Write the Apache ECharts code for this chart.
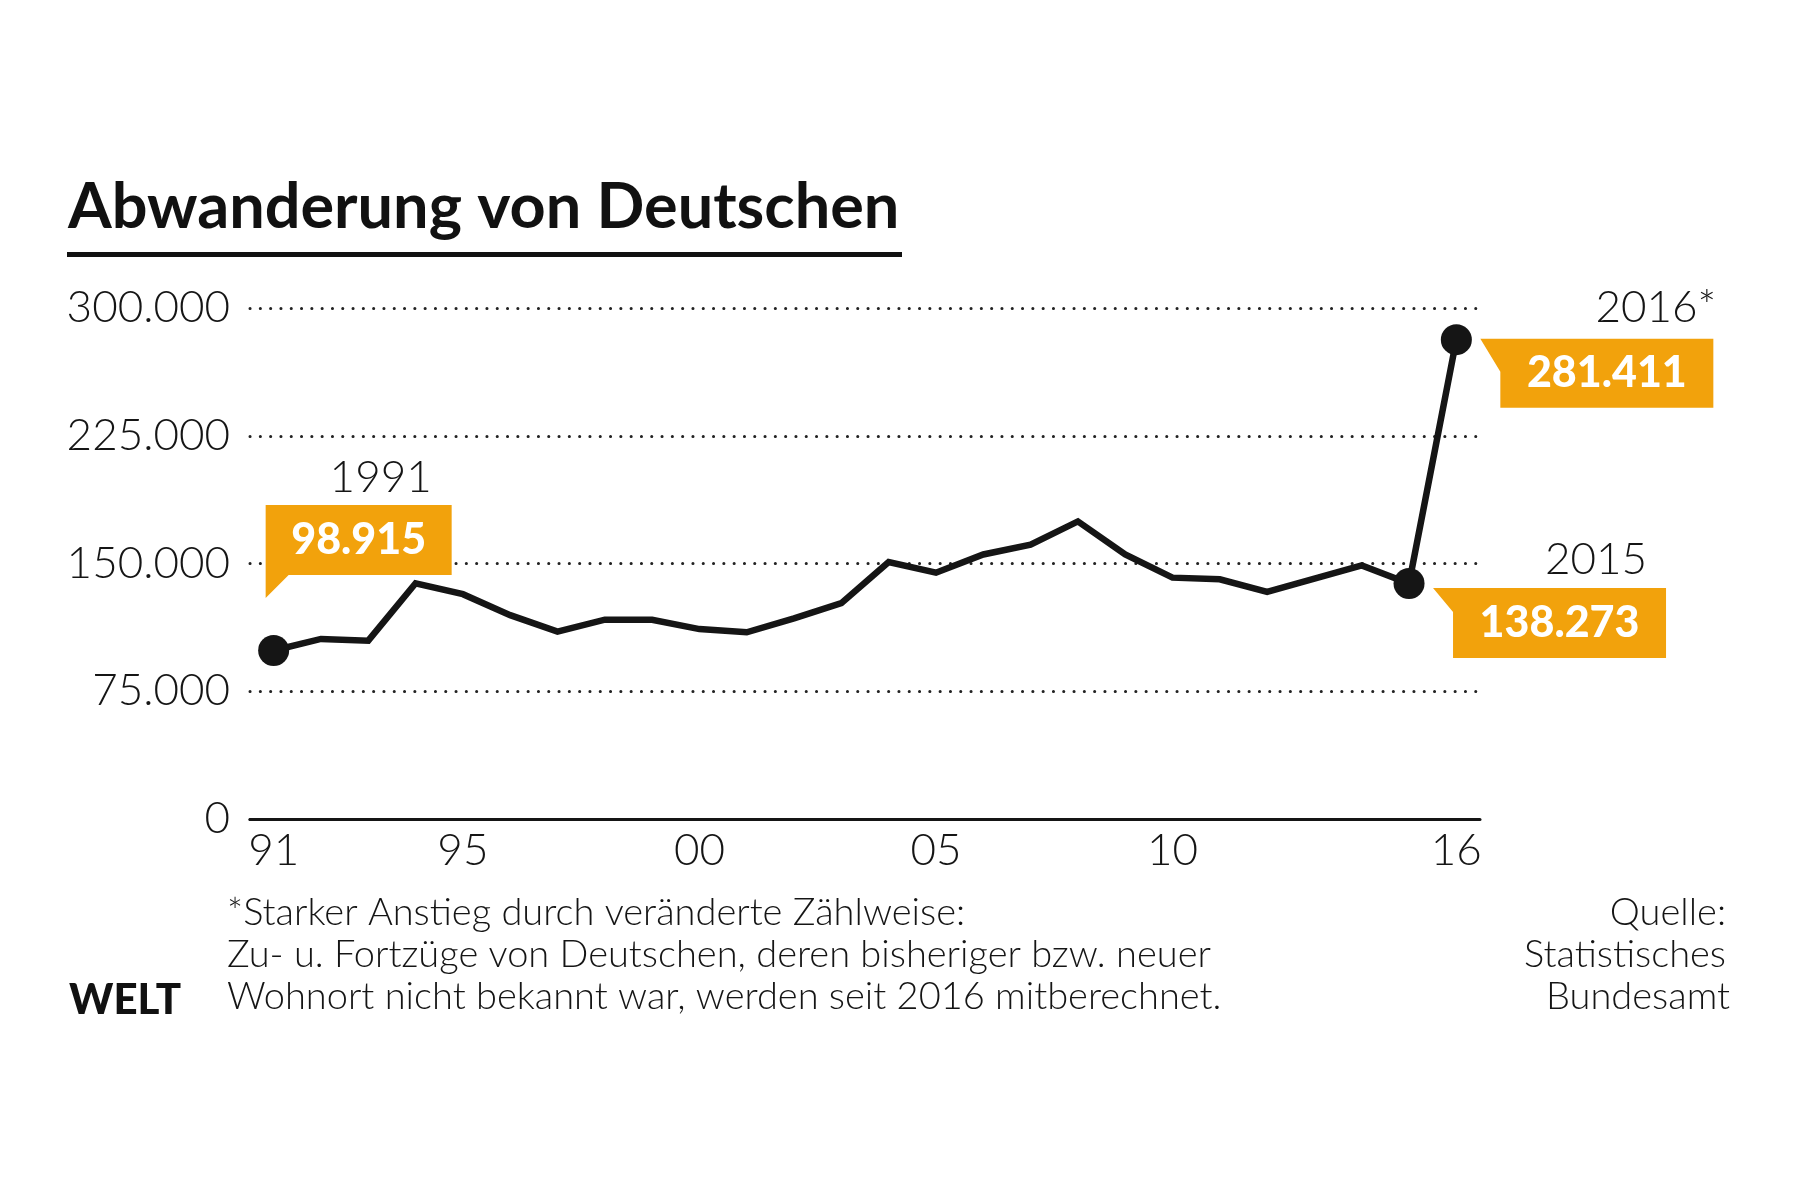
<!DOCTYPE html>
<html>
<head>
<meta charset="utf-8">
<script src="https://cdn.jsdelivr.net/npm/echarts@6/dist/echarts.min.js"></script>
<style>
html,body{margin:0;padding:0;background:#fff;}
#chart{width:1800px;height:1200px;}
</style>
</head>
<body>
<div id="chart"></div>
<script>
// ---- data ----
const years = ['1991','1992','1993','1994','1995','1996','1997','1998','1999','2000','2001','2002','2003','2004','2005','2006','2007','2008','2009','2010','2011','2012','2013','2014','2015','2016'];
const values = [98915,105700,104700,138400,132000,119700,110000,117000,117000,111500,109600,117800,126700,150800,144600,155300,161100,174700,155300,141700,140700,133300,141100,148900,138273,281411];
const xTickYears = ['1991','1995','2000','2005','2010','2016'];
const xTickLabels = ['91','95','00','05','10','16'];
const yTicks = [0,75000,150000,225000,300000];
const highlightYears = ['1991','2015','2016'];
const calloutYearLabels = ['1991','2015','2016*'];
const calloutValueLabels = ['98.915','138.273','281.411'];

const ORANGE = '#f2a20c';
const INK = '#151515';
const LIGHT = 'Lato';

function fmtDE(v){ return String(v).replace(/\B(?=(\d{3})+(?!\d))/g,'.'); }

const chart = echarts.init(document.getElementById('chart'));

// callout shapes (box + tail), in px
const calloutShapes = [
  {path:'path://M0 0 L186 0 L186 70 L23 70 L0 93 Z', size:[186,93], offset:[85,-99], labelOffset:[0,-11.5], yearOffset:[107,-173]},
  {path:'path://M0 0 L233 0 L233 70 L20 70 L20 24 Z', size:[233,70], offset:[140.5,39.5], labelOffset:[10,0], yearOffset:[187,-23.5]},
  {path:'path://M0 0 L233 0 L233 69 L20 69 L20 33 Z', size:[233,69], offset:[140.5,33.5], labelOffset:[10,0], yearOffset:[199.5,-32]}
];

const markData = [];
highlightYears.forEach((yr,i)=>{
  const idx = years.indexOf(yr);
  const s = calloutShapes[i];
  markData.push({
    coord:[yr, values[idx]],
    symbol:s.path, symbolSize:s.size, symbolOffset:s.offset, symbolKeepAspect:false,
    itemStyle:{color:ORANGE},
    label:{show:true, position:'inside', offset:s.labelOffset, formatter:calloutValueLabels[i],
      color:'#fff', fontFamily:'Lato', fontWeight:900, fontSize:43}
  });
  markData.push({
    coord:[yr, values[idx]],
    symbol:'rect', symbolSize:1, symbolOffset:s.yearOffset,
    itemStyle:{color:'rgba(0,0,0,0)'},
    label:{show:true, position:'inside', formatter:calloutYearLabels[i],
      color:INK, fontFamily:LIGHT, fontWeight:300, fontSize:44}
  });
});

const option = {
  backgroundColor:'#fff',
  animation:false,
  grid:{left:250, top:308, width:1230, height:511, containLabel:false},
  xAxis:{
    type:'category', data:years, boundaryGap:true,
    axisLine:{show:true, lineStyle:{color:INK, width:3}},
    axisTick:{show:false},
    axisLabel:{
      interval:(i,v)=>xTickYears.indexOf(v)>=0,
      formatter:(v)=>{const k=xTickYears.indexOf(v); return k>=0?xTickLabels[k]:'';},
      color:INK, fontFamily:LIGHT, fontWeight:300, fontSize:44, margin:10
    },
    splitLine:{show:false}
  },
  yAxis:{
    type:'value', min:0, max:300000, interval:75000,
    axisLine:{show:false}, axisTick:{show:false},
    axisLabel:{formatter:(v)=>yTicks.indexOf(v)>=0?fmtDE(v):'', color:INK, fontFamily:LIGHT, fontWeight:300, fontSize:44, margin:20},
    splitLine:{show:true, lineStyle:{color:'#222', width:3, type:[0.1,10.2], cap:'round'}}
  },
  series:[{
    type:'line', data:values,
    lineStyle:{color:INK, width:6.5, join:'miter'},
    symbol:'circle',
    symbolSize:(v,p)=>highlightYears.indexOf(years[p.dataIndex])>=0?31:0,
    showAllSymbol:true,
    itemStyle:{color:INK},
    z:5,
    markPoint:{data:markData, silent:true, z:4}
  }],
  graphic:[
    {type:'text', left:68, top:176, style:{text:'Abwanderung von Deutschen', font:'bold 63px Lato', fill:'#111'}},
    {type:'rect', shape:{x:67, y:252, width:835, height:5}, style:{fill:'#111'}},
    {type:'text', x:227, y:913, style:{text:'*Starker Anstieg durch veränderte Zählweise:', font:'300 38px Lato', fill:INK, textVerticalAlign:'middle'}},
    {type:'text', x:227, y:955, style:{text:'Zu- u. Fortzüge von Deutschen, deren bisheriger bzw. neuer', font:'300 38px Lato', fill:INK, textVerticalAlign:'middle'}},
    {type:'text', x:227, y:997, style:{text:'Wohnort nicht bekannt war, werden seit 2016 mitberechnet.', font:'300 38px Lato', fill:INK, textVerticalAlign:'middle'}},
    {type:'text', x:1726, y:913, style:{text:'Quelle:', font:'300 38px Lato', fill:INK, textAlign:'right', textVerticalAlign:'middle'}},
    {type:'text', x:1726, y:955, style:{text:'Statistisches', font:'300 38px Lato', fill:INK, textAlign:'right', textVerticalAlign:'middle'}},
    {type:'text', x:1730, y:997, style:{text:'Bundesamt', font:'300 38px Lato', fill:INK, textAlign:'right', textVerticalAlign:'middle'}},
    {type:'text', x:69, y:1000, style:{text:'WELT', font:'900 42px Lato', fill:'#111', textVerticalAlign:'middle'}}
  ]
};
chart.setOption(option);
</script>
</body>
</html>
